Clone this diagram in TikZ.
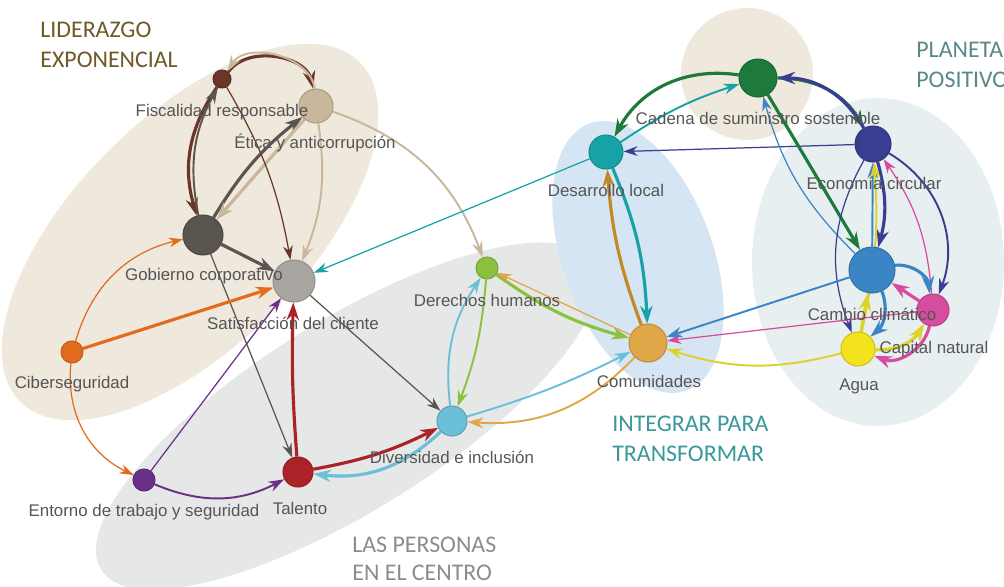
\documentclass[tikz,border=0pt]{standalone}
\usepackage{fontspec}
\setmainfont{Liberation Sans}
\newfontfamily\titlefont{Carlito}
\usetikzlibrary{arrows.meta}

\definecolor{lidBg}{HTML}{EFE8DC}
\definecolor{perBg}{HTML}{E6E8E8}
\definecolor{intBg}{HTML}{D6E5F3}
\definecolor{plaBg}{HTML}{E7EFF1}
\definecolor{lidT}{HTML}{6E5A28}
\definecolor{plaT}{HTML}{5A8888}
\definecolor{intT}{HTML}{3A979C}
\definecolor{perT}{HTML}{8C8C8C}
\definecolor{labC}{HTML}{555555}
\definecolor{fisC}{HTML}{6B3528}
\definecolor{etiC}{HTML}{C8B79A}
\definecolor{gobC}{HTML}{5B5550}
\definecolor{satC}{HTML}{A9A6A2}
\definecolor{cibC}{HTML}{E26B1E}
\definecolor{entC}{HTML}{6B3087}
\definecolor{talC}{HTML}{AC2229}
\definecolor{divC}{HTML}{6BBFD7}
\definecolor{derC}{HTML}{8CC13F}
\definecolor{comC}{HTML}{E0A748}
\definecolor{comE}{HTML}{BF8A26}
\definecolor{desC}{HTML}{17A2A6}
\definecolor{cadC}{HTML}{1E7A3C}
\definecolor{ecoC}{HTML}{3B3D91}
\definecolor{camC}{HTML}{3B85C4}
\definecolor{capC}{HTML}{D64C9E}
\definecolor{aguC}{HTML}{F3E31E}
\definecolor{aguE}{HTML}{DCD22A}

\pgfdeclarelayer{back}
\pgfdeclarelayer{links}
\pgfdeclarelayer{dots}
\pgfsetlayers{back,links,dots,main}

\begin{document}
\begin{tikzpicture}[x=0.02cm,y=-0.02cm]
\tikzstyle{vertex}=[draw, circle, inner sep=0pt, line width=0.6pt]
\tikzstyle{lab}=[font=\fontsize{9.6}{11}\selectfont, text=labC, inner sep=0pt]
\tikzstyle{title}=[font=\titlefont\fontsize{13.6}{17}\selectfont, align=left, inner sep=0pt, anchor=north west]
\tikzstyle{fine}=[line width=0.7pt, -{Stealth[length=8pt, width=5.5pt]}]
\tikzstyle{medium}=[line width=1.1pt, -{Stealth[length=9pt, width=6pt]}]
\tikzstyle{heavy}=[line width=1.8pt, -{Stealth[length=10pt, width=7pt]}]

\useasboundingbox (0,0) rectangle (1004,586);

% areas
\begin{pgfonlayer}{back}
\fill[lidBg, rotate around={45:(190,232)}] (190,232) ellipse (240 and 115);
\fill[perBg, rotate around={32:(347,416)}] (347,416) ellipse (290 and 95);
\fill[intBg, rotate around={110:(638,257)}] (638,257) ellipse (142 and 75);
\fill[lidBg] (747,74) circle (66);
\fill[plaBg] (878,262) ellipse (126 and 164);
\end{pgfonlayer}

\node[title, text=lidT] (tLid) at (40,22)  {LIDERAZGO\\EXPONENCIAL};
\node[title, text=plaT] (tPla) at (916,42) {PLANETA\\POSITIVO};
\node[title, text=intT] (tInt) at (612,416) {INTEGRAR PARA\\TRANSFORMAR};
\node[title, text=perT, font=\titlefont\fontsize{13.6}{16}\selectfont] (tPer) at (352,537) {LAS PERSONAS\\EN EL CENTRO};

\begin{pgfonlayer}{dots}
\node[vertex, fill=fisC, draw=fisC!85!black, minimum size=0.36cm] (fis) at (222, 79) {};
\node[vertex, fill=etiC, draw=etiC!85!black, minimum size=0.68cm] (eti) at (316,106) {};
\node[vertex, fill=gobC, draw=gobC!85!black, minimum size=0.80cm] (gob) at (203,235) {};
\node[vertex, fill=satC, draw=satC!85!black, minimum size=0.84cm] (sat) at (294,281) {};
\node[vertex, fill=cibC, draw=cibC!85!black, minimum size=0.44cm] (cib) at ( 72,352) {};
\node[vertex, fill=entC, draw=entC!85!black, minimum size=0.44cm] (ent) at (144,480) {};
\node[vertex, fill=talC, draw=talC!85!black, minimum size=0.60cm] (tal) at (298,472) {};
\node[vertex, fill=divC, draw=divC!85!black, minimum size=0.60cm] (div) at (452,421) {};
\node[vertex, fill=derC, draw=derC!85!black, minimum size=0.44cm] (der) at (487,268) {};
\node[vertex, fill=comC, draw=comC!85!black, minimum size=0.76cm] (com) at (648,343) {};
\node[vertex, fill=desC, draw=desC!85!black, minimum size=0.68cm] (des) at (606,152) {};
\node[vertex, fill=cadC, draw=cadC!85!black, minimum size=0.76cm] (cad) at (758, 78) {};
\node[vertex, fill=ecoC, draw=ecoC!85!black, minimum size=0.72cm] (eco) at (873,144) {};
\node[vertex, fill=camC, draw=camC!85!black, minimum size=0.92cm] (cam) at (872,270) {};
\node[vertex, fill=capC, draw=capC!85!black, minimum size=0.64cm] (cap) at (933,310) {};
\node[vertex, fill=aguC, draw=aguC!85!black, minimum size=0.68cm] (agu) at (858,349) {};
\end{pgfonlayer}

\node[lab] (fisL) at (222,112) {Fiscalidad responsable};
\node[lab] (etiL) at (315,143) {Ética y anticorrupción};
\node[lab] (gobL) at (204,276) {Gobierno corporativo};
\node[lab] (satL) at (293,323) {Satisfacción del cliente};
\node[lab] (cibL) at ( 72,384) {Ciberseguridad};
\node[lab] (entL) at (144,512) {Entorno de trabajo y seguridad};
\node[lab] (talL) at (300,508) {Talento};
\node[lab] (divL) at (452,457) {Diversidad e inclusión};
\node[lab] (derL) at (487,300) {Derechos humanos};
\node[lab] (comL) at (649,381) {Comunidades};
\node[lab] (desL) at (606,190) {Desarrollo local};
\node[lab] (cadL) at (758,118) {Cadena de suministro sostenible};
\node[lab] (ecoL) at (874,183) {Economía circular};
\node[lab] (camL) at (872,314) {Cambio climático};
\node[lab] (capL) at (934,349) {Capital natural};
\node[lab] (aguL) at (859,386) {Agua};

\begin{pgfonlayer}{links}
% liderazgo
\draw[heavy, fisC] (fis) to[bend right=25] (gob);
\draw[medium, gobC] (gob) to[bend left=20] (fis);
\draw[heavy, fisC] (fis) to[bend left=65] (eti);
\draw[medium, etiC] (eti) to[bend right=70] (fis);
\draw[heavy, gobC] (gob) to[bend left=10] (eti);
\draw[heavy, etiC] (eti) -- (gob);
\draw[fine, fisC] (fis) to[bend left=10] (sat);
\draw[medium, etiC] (eti) to[bend left=15] (sat);
\draw[medium, etiC] (eti) to[bend left=25] (der);
\draw[heavy, gobC] (gob) -- (sat);
\draw[fine, gobC] (gob) -- (tal);
\draw[fine, cibC] (cib) to[bend left=30] (gob);
\draw[heavy, cibC] (cib) -- (sat);
\draw[fine, cibC] (cib) to[bend right=35] (ent);
% personas
\draw[fine, entC] (ent) -- (sat);
\draw[medium, entC] (ent) to[bend right=25] (tal);
\draw[heavy, talC] (tal) to[bend left=3] (sat);
\draw[heavy, talC] (tal) to[bend right=8] (div);
\draw[heavy, divC] (div) to[bend left=25] (tal);
\draw[fine, gobC] (sat) -- (div);
\draw[fine, desC] (des) -- (sat);
\draw[medium, derC] (der) to[bend left=8] (div);
\draw[medium, divC] (div) to[bend left=20] (der);
\draw[heavy, derC] (der) to[bend right=10] (com);
\draw[fine, comC] (com) -- (der);
\draw[medium, divC] (div) to[bend right=5] (com);
\draw[medium, comC] (com) to[bend left=25] (div);
% integrar
\draw[heavy, comE] (com) to[bend left=8] (des);
\draw[heavy, desC] (des) to[bend left=10] (com);
\draw[heavy, cadC] (cad) to[bend right=35] (des);
\draw[medium, desC] (des) to[bend left=8] (cad);
\draw[fine, ecoC] (eco) -- (des);
% planeta
\draw[heavy, cadC] (cad) to[bend left=30] (eco);
\draw[heavy, ecoC] (eco) to[bend right=30] (cad);
\draw[heavy, cadC] (cad) -- (cam);
\draw[fine, camC] (cam) to[bend left=15] (cad);
\draw[heavy, ecoC] (eco) to[bend left=15] (cam);
\draw[medium, camC] (cam) -- (eco);
\draw[medium, aguE] (agu) to[bend right=8] (eco);
\draw[fine, capC] (cap) to[bend right=15] (eco);
\draw[fine, ecoC] (eco) to[bend right=25] (agu);
\draw[medium, ecoC] (eco) to[bend left=40] (cap);
\draw[heavy, camC] (cam) to[bend left=45] (cap);
\draw[heavy, capC] (cap) -- (cam);
\draw[heavy, aguE] (agu) -- (cam);
\draw[heavy, camC] (cam) to[bend left=35] (agu);
\draw[heavy, capC] (cap) to[bend left=50] (agu);
\draw[heavy, aguE] (agu) to[bend right=30] (cap);
\draw[fine, capC] (cap) -- (com);
\draw[medium, aguE] (agu) to[bend left=16] (com);
\draw[medium, camC] (cam) -- (com);
\end{pgfonlayer}
\end{tikzpicture}
\end{document}
